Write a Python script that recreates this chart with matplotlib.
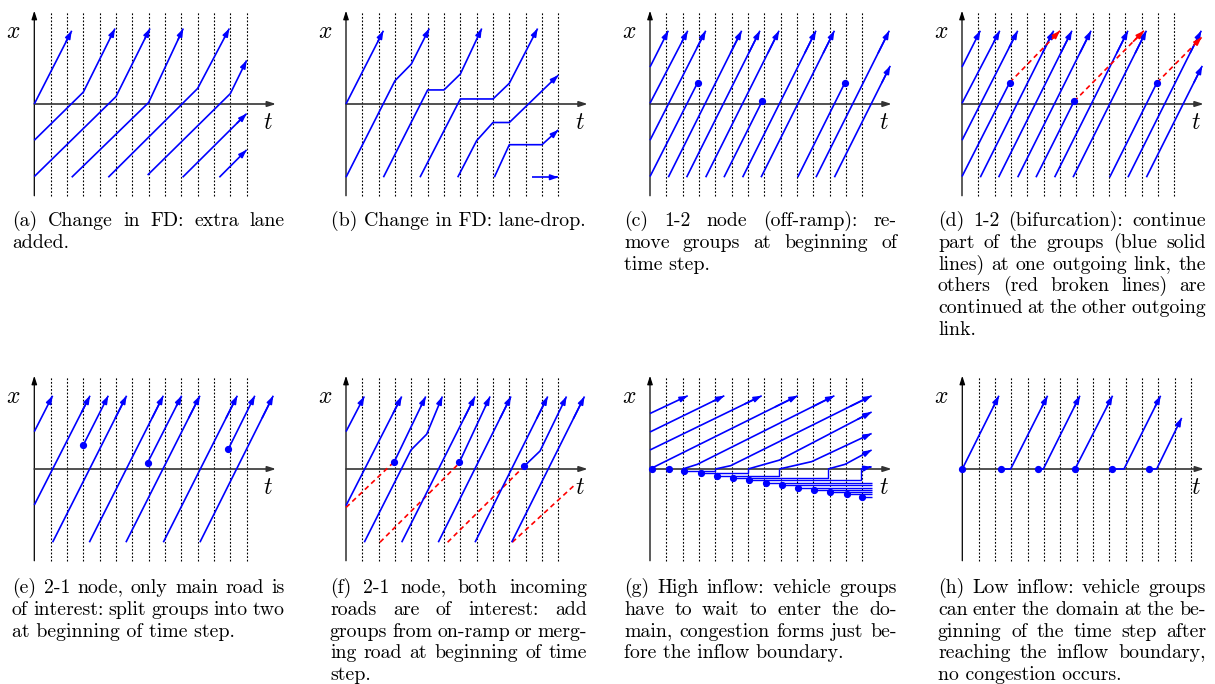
import matplotlib
matplotlib.use("Agg")
import matplotlib.pyplot as plt

plt.rcParams['mathtext.fontset'] = 'cm'

W, H = 1215, 684
BLUE = '#0000ff'
RED = '#ff0000'

# ---------------- data: t in time steps, x in domain units ----------------
# (a) change in FD: extra lane added
a_blue = [
    [(0, 0.0), (2.29, 0.99)],
    [(0, -0.49), (3, 0.16), (4.94, 1.02)],
    [(0, -0.98), (5, 0.10), (7.08, 1.02)],
    [(2.29, -0.99), (7, 0.02), (9.12, 1.02)],
    [(4.53, -0.99), (10, 0.21), (11.94, 1.02)],
    [(6.94, -0.96), (12, 0.14), (13.0, 0.59)],
    [(9.08, -0.99), (13.0, -0.13)],
    [(11.33, -0.99), (13.0, -0.62)],
]
# (b) change in FD: lane-drop
b_blue = [
    [(0, 0.0), (2.29, 0.99)],
    [(0, -0.99), (3, 0.315), (4, 0.54), (5.1, 1.02)],
    [(2.29, -0.99), (5, 0.19), (6, 0.19), (7, 0.405), (8.31, 1.02)],
    [(4.53, -0.99), (7, 0.068), (9, 0.068), (10, 0.28), (11.73, 1.02)],
    [(6.84, -0.99), (8, -0.495), (9, -0.25), (10, -0.25), (13.0, 0.39)],
    [(9.08, -0.99), (10, -0.55), (12, -0.55), (13.0, -0.35)],
    [(11.37, -0.99), (13.0, -0.99)],
]
# (c) 1-2 node (off-ramp)
c_blue = [
    [(0, 0.5), (1.12, 0.99)],
    [(0, 0.01), (2.31, 0.99)],
    [(0, -0.49), (3.41, 0.99)],
    [(1.12, -0.99), (5.61, 0.99)],
    [(2.24, -0.99), (6.73, 0.99)],
    [(3.41, -0.99), (7.9, 0.99)],
    [(5.67, -0.99), (10.16, 0.99)],
    [(6.8, -0.99), (11.29, 0.99)],
    [(10.16, -0.99), (14.65, 0.99)],
    [(11.29, -0.99), (14.71, 0.515)],
]
c_removed = [
    [(0, -0.98), (2.92, 0.29)],
    [(4.53, -0.99), (6.86, 0.035)],
    [(9.04, -0.99), (11.94, 0.29)],
]
# (d) 1-2 bifurcation
d_blue = c_blue
d_split = c_removed
d_red = [
    [(2.92, 0.29), (6.0, 0.99)],
    [(6.86, 0.035), (11.14, 0.99)],
    [(11.94, 0.29), (14.67, 0.9)],
]
# (e) 2-1 node, only main road
e_blue = [
    [(0, 0.505), (1.12, 0.99)],
    [(0, -0.486), (3.41, 0.99)],
    [(1.12, -0.99), (5.65, 0.99)],
    [(3.0, 0.324), (4.53, 0.99)],
    [(3.37, -0.99), (7.9, 0.99)],
    [(6.94, 0.086), (9.02, 0.99)],
    [(5.61, -0.99), (10.14, 0.99)],
    [(7.9, -0.99), (12.43, 0.99)],
    [(11.88, 0.27), (13.5, 0.99)],
    [(10.14, -0.99), (14.63, 0.99)],
]
e_dots = [(3.0, 0.324), (6.94, 0.086), (11.88, 0.27)]
# (f) 2-1 node, both incoming roads
f_blue = [
    [(0, 0.505), (1.12, 0.98)],
    [(0, -0.495), (3.41, 0.98)],
    [(2.96, 0.10), (4.88, 0.98)],
    [(1.12, -0.99), (3.98, 0.257), (4.94, 0.47), (5.9, 0.98)],
    [(3.41, -0.99), (7.9, 0.98)],
    [(5.65, -0.99), (10.1, 0.98)],
    [(6.94, 0.09), (8.82, 0.98)],
    [(7.9, -0.99), (12.35, 0.98)],
    [(10.14, -0.99), (14.6, 0.98)],
    [(10.92, 0.04), (11.88, 0.243), (13.5, 0.98)],
]
f_red = [
    [(0, -0.52), (2.96, 0.10)],
    [(2.08, -0.99), (6.94, 0.08)],
    [(6.22, -0.99), (10.92, 0.04)],
    [(10.18, -0.99), (14.0, -0.216)],
]
f_dots = [(2.96, 0.10), (6.94, 0.09), (10.92, 0.04)]
# (g) high inflow
g_blue = [
    [(0, 0.75), (2.31, 0.99)],
    [(0, 0.50), (4.55, 0.99)],
    [(0, 0.257), (6.84, 0.99)],
    [(0, 0.0), (9.04, 0.99)],
    [(2, 0.0), (2.9, 0.063), (11.29, 0.99)],
    [(4, 0.0), (4.94, 0.045), (13.57, 0.99)],
    [(6, 0.0), (7.92, 0.12), (13.57, 0.77)],
    [(7.92, 0.0), (9.9, 0.10), (13.57, 0.48)],
    [(10.9, 0.0), (11.94, 0.063), (13.57, 0.257)],
    [(12.9, 0.0), (13.57, 0.03)],
]
g_queue_t = [0.1, 1.16, 2.1, 3.12, 4.12, 5.06, 6.08, 7.08, 8.06, 9.04, 10.04, 11.02, 12.04, 12.96]
g_queue_x = [0.0, 0.0, -0.027, -0.059, -0.09, -0.126, -0.153, -0.185, -0.216, -0.252, -0.279, -0.31, -0.342, -0.374]
g_enter_t = [None, None, 4.0, 6.0, 7.92, 10.9, 12.9, None, None, None, None, None, None, None]
g_t_end = 13.57
# (h) low inflow
h_blue = [
    [(0, 0.0), (2.24, 0.99)],
    [(2.37, 0.0), (2.96, 0.0), (5.22, 0.99)],
    [(4.65, 0.0), (4.96, 0.0), (7.2, 0.99)],
    [(6.9, 0.0), (9.2, 0.99)],
    [(9.18, 0.0), (9.9, 0.0), (12.14, 0.99)],
    [(11.45, 0.0), (11.9, 0.0), (13.43, 0.69)],
]
h_dots = [(0, 0.0), (2.37, 0.0), (4.65, 0.0), (6.9, 0.0), (9.18, 0.0), (11.45, 0.0)]

captions = {
    'a': ["(a) Change in FD: extra lane", "added."],
    'b': ["(b) Change in FD: lane-drop."],
    'c': ["(c) 1-2 node (off-ramp): re-", "move groups at beginning of", "time step."],
    'd': ["(d) 1-2 (bifurcation): continue", "part of the groups (blue solid",
          "lines) at one outgoing link, the", "others (red broken lines) are",
          "continued at the other outgoing", "link."],
    'e': ["(e) 2-1 node, only main road is", "of interest: split groups into two",
          "at beginning of time step."],
    'f': ["(f) 2-1 node, both incoming", "roads are of interest: add",
          "groups from on-ramp or merg-", "ing road at beginning of time", "step."],
    'g': ["(g) High inflow: vehicle groups", "have to wait to enter the do-",
          "main, congestion forms just be-", "fore the inflow boundary."],
    'h': ["(h) Low inflow: vehicle groups", "can enter the domain at the be-",
          "ginning of the time step after", "reaching the inflow boundary,",
          "no congestion occurs."],
}

# ---------------- layout ----------------
DT = 49 / 3.0
DX = 74.0
T0, T1 = -2.2, 15.4
X0, X1 = -1.35, 1.35
origins = {'a': (34.3, 104), 'b': (346, 104), 'c': (650, 104), 'd': (962, 104),
           'e': (34.3, 469), 'f': (346, 469), 'g': (650, 469), 'h': (962.3, 469)}
n_dotted = {'a': 13, 'b': 13, 'c': 13, 'd': 13, 'e': 13, 'f': 13, 'g': 13, 'h': 14}
cap_cols = {'a': (12, 285), 'b': (330, 587), 'c': (624, 897), 'd': (938, 1206),
            'e': (12, 285), 'f': (330, 587), 'g': (624, 897), 'h': (938, 1206)}
cap_y0 = {'a': 226, 'b': 226, 'c': 226, 'd': 226, 'e': 593, 'f': 593, 'g': 593, 'h': 593}
LS = 21.8
CAPFONT = dict(fontfamily='cmr10', fontsize=14.3, color='black')
LW = 1.2

fig = plt.figure(figsize=(W / 100, H / 100), dpi=100)


def make_ax(key):
    ox, oy = origins[key]
    left = (ox + T0 * DT) / W
    width = (T1 - T0) * DT / W
    top_px = oy - X1 * DX
    bot_px = oy - X0 * DX
    ax = fig.add_axes([left, 1 - bot_px / H, width, (bot_px - top_px) / H])
    ax.set_xlim(T0, T1)
    ax.set_ylim(X0, X1)
    ax.axis('off')
    return ax


def arrow_head(ax, p0, p1, color, lw=LW):
    ax.annotate('', xy=p1, xytext=p0,
                arrowprops=dict(arrowstyle='-|>,head_length=0.45,head_width=0.16',
                                color=color, lw=lw, shrinkA=0, shrinkB=0,
                                mutation_scale=10))


def polyline(ax, pts, color=BLUE, arrow=True, dashed=False, lw=LW):
    ts = [p[0] for p in pts]
    xs = [p[1] for p in pts]
    ls = (0, (3.0, 2.2)) if dashed else '-'
    ax.plot(ts, xs, color=color, lw=lw, ls=ls, solid_capstyle='butt', zorder=3)
    if arrow:
        (ta, xa), (tb, xb) = pts[-2], pts[-1]
        f = 0.85
        arrow_head(ax, (ta + f * (tb - ta), xa + f * (xb - xa)), (tb, xb), color, lw=lw)


def base(ax, key):
    for k in range(1, n_dotted[key] + 1):
        ax.plot([k, k], [-1.24, 1.24], color='black', lw=0.8, ls=(0, (1.6, 1.6)), zorder=1)
    ax.annotate('', xy=(0, 1.26), xytext=(0, -1.24),
                arrowprops=dict(arrowstyle='-|>,head_length=0.5,head_width=0.16',
                                color='black', lw=0.9, shrinkA=0, shrinkB=0, mutation_scale=10))
    ax.annotate('', xy=(14.8, 0), xytext=(0, 0),
                arrowprops=dict(arrowstyle='-|>,head_length=0.5,head_width=0.16',
                                color='#333333', lw=1.2, shrinkA=0, shrinkB=0, mutation_scale=10))
    ax.text(-1.3, 0.99, '$x$', fontsize=17, ha='center', va='center')
    ax.text(14.33, -0.24, '$t$', fontsize=17, ha='center', va='center')


def dots(ax, pts):
    ax.plot([p[0] for p in pts], [p[1] for p in pts], 'o', color=BLUE, ms=4.2, zorder=4)


axes = {k: make_ax(k) for k in origins}
for k, ax in axes.items():
    base(ax, k)

for pl in a_blue:
    polyline(axes['a'], pl)
for pl in b_blue:
    polyline(axes['b'], pl)
for pl in c_blue:
    polyline(axes['c'], pl)
for pl in c_removed:
    polyline(axes['c'], pl, arrow=False)
dots(axes['c'], [pl[-1] for pl in c_removed])
for pl in d_blue:
    polyline(axes['d'], pl)
for pl in d_split:
    polyline(axes['d'], pl, arrow=False)
for pl in d_red:
    polyline(axes['d'], pl, color=RED, dashed=True)
dots(axes['d'], [pl[-1] for pl in d_split])
for pl in e_blue:
    polyline(axes['e'], pl)
dots(axes['e'], e_dots)
for pl in f_red:
    polyline(axes['f'], pl, color=RED, dashed=True, arrow=False)
for pl in f_blue:
    polyline(axes['f'], pl)
dots(axes['f'], f_dots)
for pl in g_blue:
    polyline(axes['g'], pl)
axg = axes['g']
for tq, xq, te in zip(g_queue_t, g_queue_x, g_enter_t):
    if te is None:
        if xq < 0:
            polyline(axg, [(tq, xq), (g_t_end, xq)], arrow=False, lw=1.0)
    else:
        polyline(axg, [(tq, xq), (te, xq), (te, 0.0)], arrow=False, lw=1.0)
dots(axg, list(zip(g_queue_t, g_queue_x)))
for pl in h_blue:
    polyline(axes['h'], pl)
dots(axes['h'], h_dots)

# ---------------- captions (justified like LaTeX) ----------------
renderer = fig.canvas.get_renderer()
for key, lines in captions.items():
    left, right = cap_cols[key]
    for i, line in enumerate(lines):
        y = 1 - (cap_y0[key] + i * LS) / H
        if len(lines) == 1:
            fig.text((left + right) / 2 / W, y, line, ha='center', va='baseline', **CAPFONT)
            continue
        if i == len(lines) - 1:
            fig.text(left / W, y, line, ha='left', va='baseline', **CAPFONT)
            continue
        words = line.split(' ')
        objs = [fig.text(0, y, w, ha='left', va='baseline', **CAPFONT) for w in words]
        widths = [o.get_window_extent(renderer).width for o in objs]
        gap = (right - left - sum(widths)) / (len(words) - 1)
        xp = left
        for o, wd in zip(objs, widths):
            o.set_x(xp / W)
            xp += wd + gap

fig.savefig('out.png', dpi=100)
